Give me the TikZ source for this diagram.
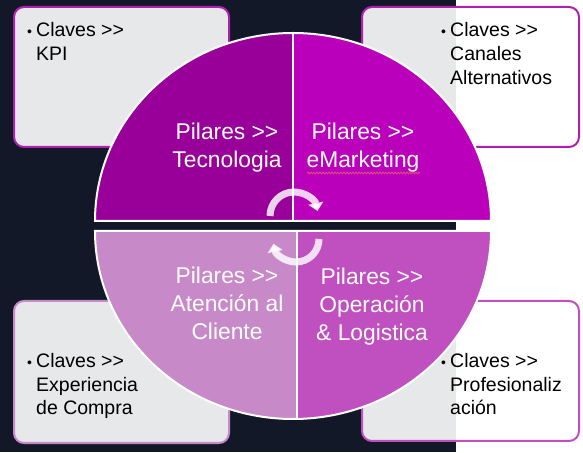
\documentclass[tikz,border=0pt]{standalone}
\usepackage{fontspec}
\setmainfont{Liberation Sans}
\usetikzlibrary{arrows.meta,decorations.pathmorphing}
\definecolor{navy}{HTML}{121827}
\definecolor{qTL}{HTML}{990099}
\definecolor{qTR}{HTML}{BB00BB}
\definecolor{qBL}{HTML}{C889C8}
\definecolor{qBR}{HTML}{C050C0}
\definecolor{edgeTop}{HTML}{B020B0}
\definecolor{spell}{HTML}{E0507A}
\newcommand\gtgt{>\kern0pt>}
\newcommand\bul{\makebox[9pt][l]{\fontsize{14}{14}\selectfont •}}
\begin{document}
\begin{tikzpicture}[x=1pt,y=1pt,
  keybox/.style={draw, line width=2pt, rounded corners=10pt, fill=white, fill opacity=0.9, text opacity=1, anchor=south west, inner sep=0pt},
  keytext/.style={anchor=base west, font=\fontsize{19.5}{24}\selectfont, align=left, inner sep=0pt, text=black},
  piltext/.style={anchor=base, font=\fontsize{22.8}{28}\selectfont, align=center, text=white, inner sep=0pt},
  cyc/.style={draw=white, draw opacity=0.82, line width=7pt, -{Triangle[width=15pt,length=8pt]}},
  rim/.style={draw=white, line width=2pt}]
\useasboundingbox (0,0) rectangle (583,452);
\fill[white] (0,0) rectangle (583,452);
\fill[navy] (0,0) rectangle (456,452);
% key boxes
\node[keybox, draw=edgeTop, minimum width=215pt, minimum height=140pt] (tl) at (13,304) {};
\node[keybox, draw=edgeTop, minimum width=217pt, minimum height=140pt] (tr) at (361,304) {};
\node[keybox, draw=qBL, minimum width=215pt, minimum height=142pt] (bl) at (13,8) {};
\node[keybox, draw=qBR, minimum width=217pt, minimum height=140pt] (br) at (361,10) {};
% circle halves
\begin{scope}
  \clip (95,231) arc[start angle=180, end angle=0, x radius=198, y radius=188] -- cycle;
  \fill[qTL] (0,231) rectangle (293,452);
  \fill[qTR] (293,231) rectangle (583,452);
\end{scope}
\draw[rim] (95,231) arc[start angle=180, end angle=0, x radius=198, y radius=188] -- cycle;
\draw[rim] (293,231) -- (293,419);
\begin{scope}
  \clip (95,221) arc[start angle=180, end angle=360, x radius=198, y radius=188] -- cycle;
  \fill[qBL] (0,0) rectangle (297,221);
  \fill[qBR] (297,0) rectangle (583,221);
\end{scope}
\draw[rim] (95,221) arc[start angle=180, end angle=360, x radius=198, y radius=188] -- cycle;
\draw[rim] (297,221) -- (297,33);
% cycle arrows
\coordinate (c1) at (270,236);
\coordinate (c2) at (319,213);
\draw[cyc] (c1) arc[start angle=180, end angle=12, radius=24];
\draw[cyc] (c2) arc[start angle=0, end angle=-168, radius=23];
% pillar texts
\node[piltext] (p1) at (227,284) {Pilares \gtgt\\Tecnologia};
\node[piltext] (p2) at (363,284) {Pilares \gtgt\\eMarketing};
\node[piltext] (p3) at (227,112) {Pilares \gtgt\\Atención al\\Cliente};
\node[piltext] (p4) at (372,111) {Pilares \gtgt\\Operación\\\& Logistica};
\coordinate (w1) at (307,279);
\coordinate (w2) at (420,279);
\draw[spell, line width=0.8pt, decorate, decoration={snake, amplitude=0.9pt, segment length=3pt}] (w1) -- (w2);
% key texts
\node[keytext] (k1) at (27,391) {\bul Claves \gtgt\\\hspace*{9pt}KPI};
\node[keytext] (k2) at (441,367) {\bul Claves \gtgt\\\hspace*{9pt}Canales\\\hspace*{9pt}Alternativos};
\node[keytext] (k3) at (27,37) {\bul Claves \gtgt\\\hspace*{9pt}Experiencia\\\hspace*{9pt}de Compra};
\node[keytext] (k4) at (441,37) {\bul Claves \gtgt\\\hspace*{9pt}Profesionaliz\\\hspace*{9pt}ación};
\end{tikzpicture}
\end{document}
